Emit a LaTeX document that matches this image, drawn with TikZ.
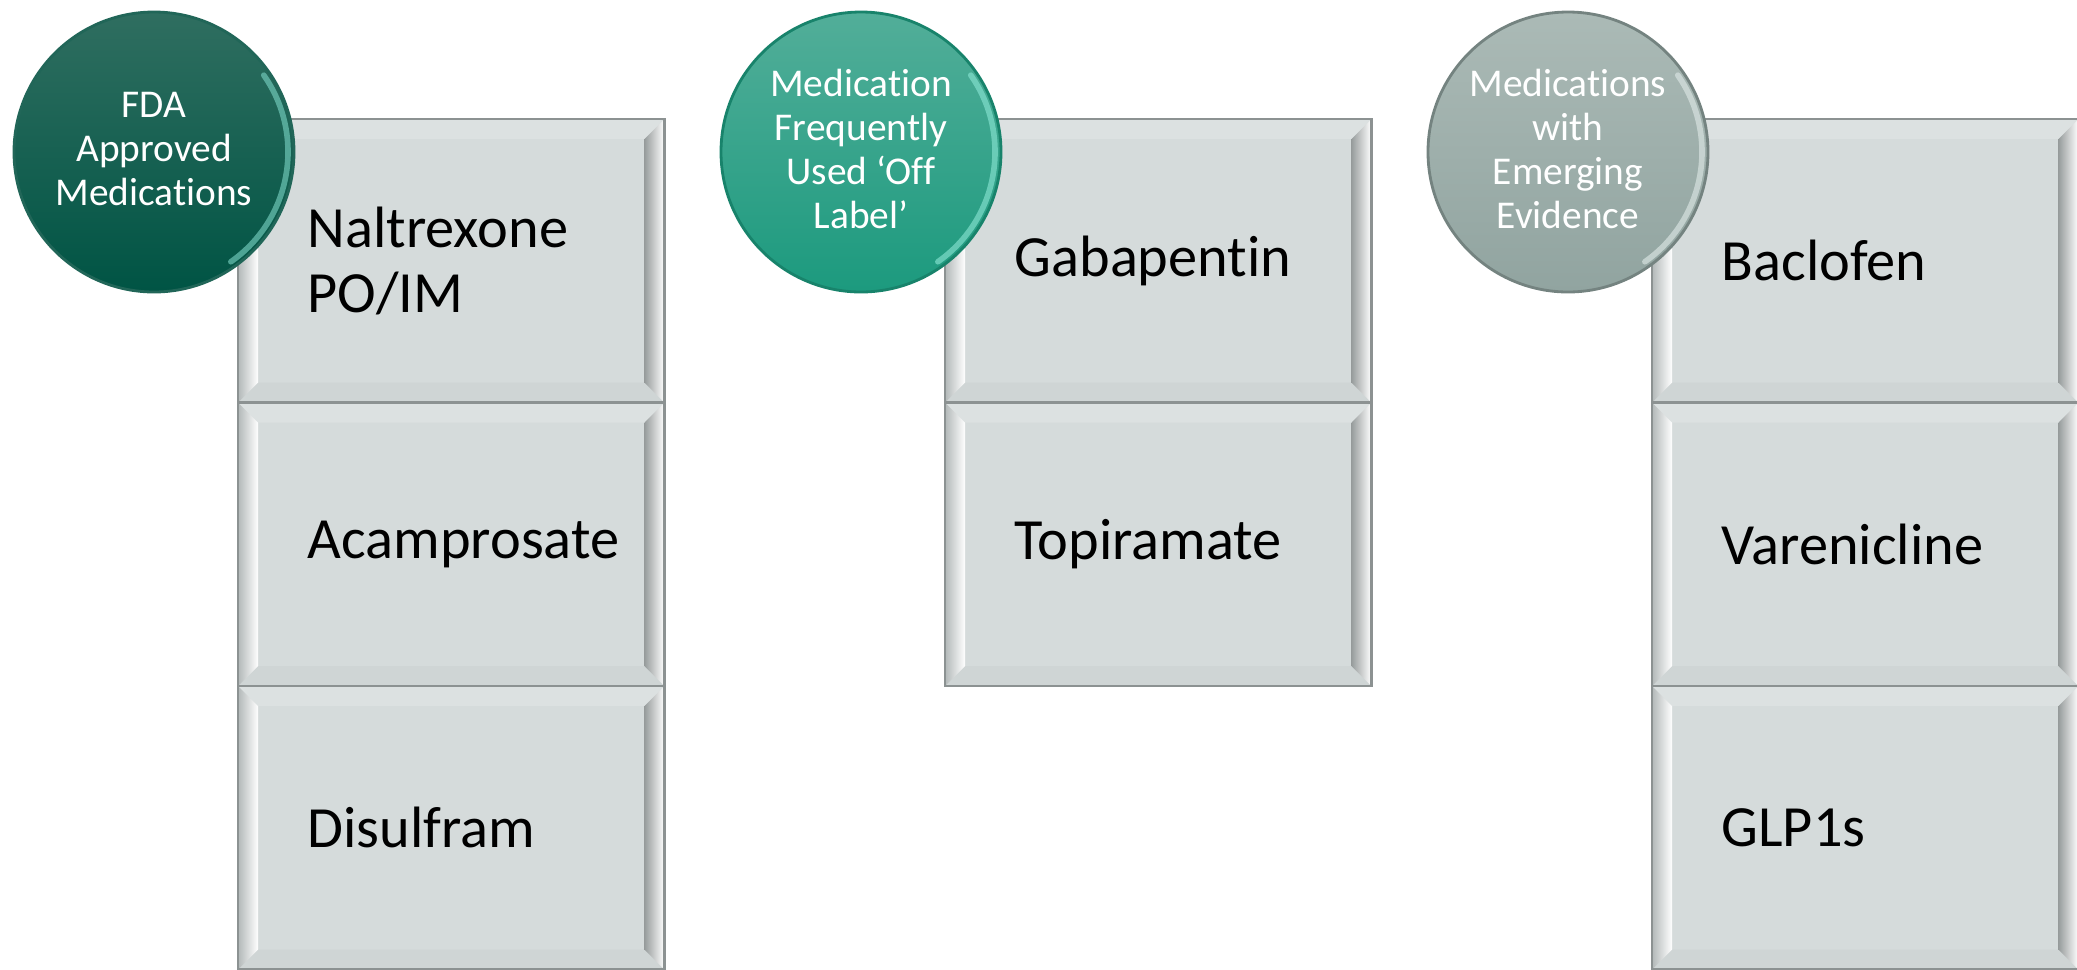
\documentclass[tikz,border=0pt]{standalone}
\usepackage{fontspec}
\setmainfont{Carlito}[Ligatures=NoCommon]

\definecolor{boxfill}{HTML}{D5DBDB}
\definecolor{boxedge}{HTML}{8C9292}
\definecolor{bevdark}{HTML}{B2B8B8}
\definecolor{bevlight}{HTML}{F8F9F9}
\definecolor{bevtop}{HTML}{DCE1E1}
\definecolor{bevbot}{HTML}{CFD5D5}
\definecolor{fdatop}{HTML}{2F6E60}
\definecolor{fdabot}{HTML}{005444}
\definecolor{fdarim}{HTML}{74CDBD}
\definecolor{offtop}{HTML}{52AE99}
\definecolor{offbot}{HTML}{1C9A7E}
\definecolor{offrim}{HTML}{86E2D0}
\definecolor{emgtop}{HTML}{ABBAB6}
\definecolor{emgbot}{HTML}{91A4A0}
\definecolor{emgrim}{HTML}{DCE6E4}

\tikzset{
  medbox/.style={rectangle, minimum width=4.265cm, minimum height=2.835cm,
    inner sep=0pt, fill=boxfill, draw=boxedge, line width=0.6pt,
    path picture={
      \fill[bevtop] (path picture bounding box.north west)
        -- (path picture bounding box.north east)
        -- ([shift={(-0.2,-0.2)}]path picture bounding box.north east)
        -- ([shift={(0.2,-0.2)}]path picture bounding box.north west) -- cycle;
      \fill[bevbot] (path picture bounding box.south west)
        -- (path picture bounding box.south east)
        -- ([shift={(-0.2,0.2)}]path picture bounding box.south east)
        -- ([shift={(0.2,0.2)}]path picture bounding box.south west) -- cycle;
      \shade[left color=bevdark, middle color=bevdark!60!boxfill, right color=white] (path picture bounding box.north west)
        -- ([shift={(0.2,-0.2)}]path picture bounding box.north west)
        -- ([shift={(0.2,0.2)}]path picture bounding box.south west)
        -- (path picture bounding box.south west) -- cycle;
      \shade[left color=bevdark!85!black, middle color=bevlight, right color=white] (path picture bounding box.north east)
        -- ([shift={(-0.2,-0.2)}]path picture bounding box.north east)
        -- ([shift={(-0.2,0.2)}]path picture bounding box.south east)
        -- (path picture bounding box.south east) -- cycle;
    }},
  medtext/.style={anchor=west, align=left, inner sep=0pt,
    font=\fontsize{16.6}{18.6}\selectfont},
  medcircle/.style={circle, minimum size=2.8cm, inner sep=0pt, line width=0.8pt},
  medrim/.style={line width=1.6pt, line cap=round, opacity=0.65},
  circtext/.style={align=center, inner sep=0pt, text=white,
    font=\fontsize{11.2}{12.6}\selectfont}
}

\begin{document}
\begin{tikzpicture}
  \useasboundingbox (0,0) rectangle (20.77,-9.69);

  % FDA approved
  \begin{scope}
    \node[medbox] (nal) at (4.5125,-2.6075) {};
    \node[medbox] (aca) at (4.5125,-5.4425) {};
    \node[medbox] (dis) at (4.5125,-8.2775) {};
    \node[medtext] (naltxt) at ([xshift=0.7cm]nal.west) {Naltrexone\\PO/IM};
    \node[medtext] (acatxt) at ([xshift=0.7cm]aca.west) {Acamprosate};
    \node[medtext] (distxt) at ([xshift=0.7cm]dis.west) {Disulfram};
    \node[medcircle, top color=fdatop, bottom color=fdabot, draw=fdatop!70!fdabot] (fda) at (1.54,-1.52) {};
    \draw[medrim, fdarim] (fda.center) ++(-55:1.34) arc[start angle=-55, end angle=35, radius=1.34];
    \node[circtext] (fdatxt) at ([yshift=0.03cm]fda.center) {FDA\\Approved\\Medications};
  \end{scope}

  % off label
  \begin{scope}[shift={(7.07,0)}]
    \node[medbox] (gab) at (4.5125,-2.6075) {};
    \node[medbox] (top) at (4.5125,-5.4425) {};
    \node[medtext] (gabtxt) at ([xshift=0.7cm]gab.west) {Gabapentin};
    \node[medtext] (toptxt) at ([xshift=0.7cm]top.west) {Topiramate};
    \node[medcircle, top color=offtop, bottom color=offbot, draw=offbot!85!black] (off) at (1.54,-1.52) {};
    \draw[medrim, offrim] (off.center) ++(-55:1.34) arc[start angle=-55, end angle=35, radius=1.34];
    \node[circtext] (offtxt) at ([yshift=0.03cm]off.center) {Medication\\Frequently\\Used ‘Off\\Label’};
  \end{scope}

  % emerging evidence
  \begin{scope}[shift={(14.14,0)}]
    \node[medbox] (bac) at (4.5125,-2.6075) {};
    \node[medbox] (var) at (4.5125,-5.4425) {};
    \node[medbox] (glp) at (4.5125,-8.2775) {};
    \node[medtext] (bactxt) at ([xshift=0.7cm]bac.west) {Baclofen};
    \node[medtext] (vartxt) at ([xshift=0.7cm]var.west) {Varenicline};
    \node[medtext] (glptxt) at ([xshift=0.7cm]glp.west) {GLP1s};
    \node[medcircle, top color=emgtop, bottom color=emgbot, draw=emgbot!80!black] (emg) at (1.54,-1.52) {};
    \draw[medrim, emgrim] (emg.center) ++(-55:1.34) arc[start angle=-55, end angle=35, radius=1.34];
    \node[circtext] (emgtxt) at ([yshift=0.03cm]emg.center) {Medications\\with\\Emerging\\Evidence};
  \end{scope}
\end{tikzpicture}
\end{document}
